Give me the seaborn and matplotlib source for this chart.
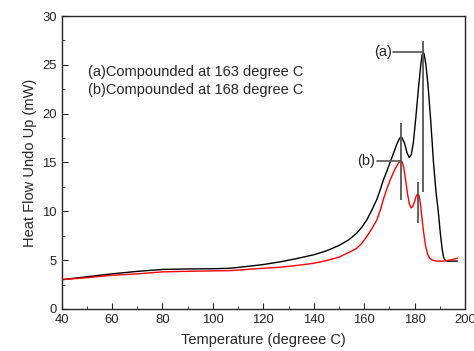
import pandas as pd
import seaborn as sns
import matplotlib.pyplot as plt
from matplotlib.ticker import MultipleLocator

# values
temp_a = [40, 50, 60, 70, 80, 90, 100, 107, 115, 120, 127, 133, 140, 145, 150, 154, 157, 159, 161, 163,
          165, 166.5, 167.6, 169, 170, 171, 172, 173, 174, 174.5, 175, 176, 177, 177.9, 178.7, 179.5,
          180.5, 181.5, 182.5, 183, 183.4, 183.8, 184.5, 185.3, 186.2, 187, 187.5, 188.5, 189.4,
          190.2, 190.9, 191.5, 192.2, 193, 197]
heat_a = [3.0, 3.3, 3.6, 3.85, 4.05, 4.1, 4.12, 4.17, 4.4, 4.55, 4.84, 5.15, 5.55, 5.95, 6.5, 7.1, 7.75, 8.35, 9.1, 10.1,
          11.2, 12.3, 13.2, 14.1, 14.8, 15.5, 16.2, 16.9, 17.45, 17.6, 17.55, 17.0, 16.0, 15.5, 15.8, 17.0,
          19.6, 22.5, 25.1, 26.0, 26.3, 26.1, 25.0, 23.0, 20.0, 17.0, 15.0, 12.0, 10.0,
          7.8, 6.2, 5.3, 4.95, 4.9, 4.9]

temp_b = [40, 50, 60, 70, 80, 90, 100, 107, 115, 120, 127, 133, 140, 145, 150, 154, 157, 159, 161, 163,
          165, 166.5, 167.6, 169, 170.3, 172, 173.5, 174.2, 174.5, 175, 175.7, 176.4, 177.2, 177.9,
          178.6, 179.3, 180, 180.7, 181.3, 181.8, 182.3, 182.8, 183.5, 184.4, 185.2, 186, 187, 189,
          191, 194, 197]
heat_b = [3.0, 3.2, 3.45, 3.6, 3.8, 3.86, 3.9, 3.93, 4.08, 4.17, 4.28, 4.45, 4.68, 4.95, 5.3, 5.8, 6.2, 6.7, 7.4, 8.2,
          9.1, 10.2, 11.2, 12.3, 13.2, 14.2, 14.9, 15.15, 15.2, 15.1, 14.5, 13.3, 11.8, 10.8,
          10.35, 10.5, 11.0, 11.6, 11.8, 11.6, 10.8, 9.6, 8.0, 6.4, 5.6, 5.2, 5.0, 4.9,
          4.9, 5.0, 5.2]

# peak marker lines (temperature, low, high)
marker_temp = [174.5, 183.4, 181.3]
marker_low = [11.2, 12.0, 8.8]
marker_high = [19.0, 27.4, 13.0]

# curve labels and their leader lines
curve_labels = ["(a)", "(b)"]
label_y = [26.3, 15.15]
leader_start = [171.5, 165.1]
leader_end = [183.4, 174.5]

legend_lines = ["(a)Compounded at 163 degree C", "(b)Compounded at 168 degree C"]

df = pd.concat([
    pd.DataFrame({"T": temp_a, "H": heat_a, "s": "a"}),
    pd.DataFrame({"T": temp_b, "H": heat_b, "s": "b"}),
])

sns.set_style("ticks")
plt.rcParams['font.family'] = ['Liberation Sans', 'DejaVu Sans']

fig = plt.figure(figsize=(4.74, 3.51), dpi=100)
ax = fig.add_axes([0.130, 0.1197, 0.851, 0.8347])

sns.lineplot(data=df, x="T", y="H", hue="s", palette={"a": "black", "b": "red"},
             linewidth=1.0, legend=False, ax=ax, sort=False)

ax.vlines(marker_temp, marker_low, marker_high, colors="#555555", linewidth=1.3)
for lab, y, x0, x1 in zip(curve_labels, label_y, leader_start, leader_end):
    ax.plot([x0, x1], [y, y], color="#555555", lw=1.2)
    ax.text(x0 - 0.6, y, lab, ha="right", va="center", fontsize=10.5)

ax.text(50.4, 24.3, legend_lines[0], fontsize=10.5, va="center")
ax.text(50.4, 22.4, legend_lines[1], fontsize=10.5, va="center")

ax.set_xlim(40, 200)
ax.set_ylim(0, 30)
ax.xaxis.set_major_locator(MultipleLocator(20))
ax.xaxis.set_minor_locator(MultipleLocator(10))
ax.yaxis.set_major_locator(MultipleLocator(5))
ax.yaxis.set_minor_locator(MultipleLocator(2.5))
ax.tick_params(which="both", direction="in", labelsize=9.4)
ax.tick_params(which="major", length=4)
ax.tick_params(which="minor", length=2.5)
for sp in ax.spines.values():
    sp.set_visible(True)
    sp.set_linewidth(1.0)

ax.set_xlabel("Temperature (degreee C)", fontsize=10.5, labelpad=5)
ax.set_ylabel("Heat Flow Undo Up (mW)", fontsize=10.5, labelpad=4)

fig.savefig("out.png", dpi=100)
